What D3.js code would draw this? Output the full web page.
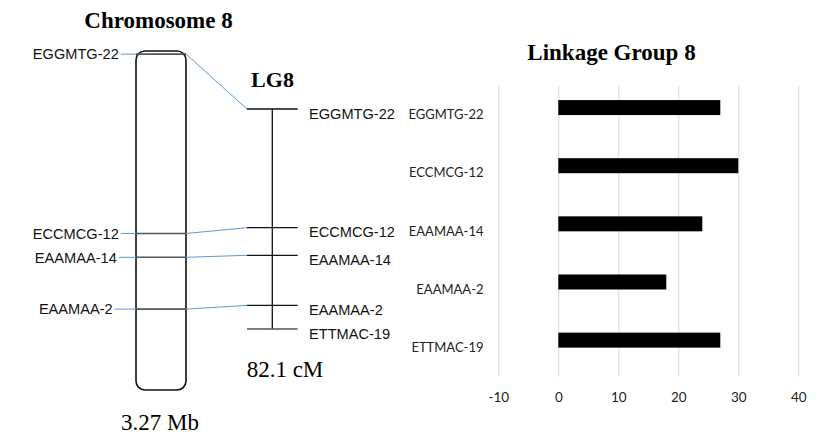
<!DOCTYPE html>
<html>
<head>
<meta charset="utf-8">
<script src="https://cdn.jsdelivr.net/npm/d3@7"></script>
<style>
  html, body { margin: 0; padding: 0; background: #fff; }
  svg { display: block; }
</style>
</head>
<body>
<svg id="chart" width="822" height="435"></svg>
<script>
// Marker names, top to bottom
const markers = ["EGGMTG-22", "ECCMCG-12", "EAAMAA-14", "EAAMAA-2", "ETTMAC-19"];
// Physical position on chromosome 8 (Mb); ETTMAC-19 has no physical anchor
const physicalMb = [0.03, 1.76, 1.99, 2.49, null];
// Genetic position on linkage group 8 (cM)
const geneticCM = [0, 44.3, 54.6, 73.3, 82.1];
// Bar lengths shown in the Linkage Group 8 panel
const barValues = [27, 30, 24, 18, 27];
const barTicks = [-10, 0, 10, 20, 30, 40];

const chromLengthMb = 3.27;
const lgLengthCM = 82.1;

const svg = d3.select("#chart");
const serif = "'Liberation Serif', 'Times New Roman', serif";
const sans = "'Liberation Sans', Arial, sans-serif";
const barFont = "Lato, 'Open Sans', sans-serif";
const blue = "#5b9bd5";

// ---------- Chromosome ideogram ----------
const chromX0 = 136, chromX1 = 186;
const yChrom = d3.scaleLinear().domain([0, chromLengthMb]).range([51, 390]);

svg.append("text")
  .attr("x", 158.5).attr("y", 28)
  .attr("text-anchor", "middle")
  .attr("font-family", serif).attr("font-weight", "bold").attr("font-size", 23)
  .text("Chromosome 8");

svg.append("rect")
  .attr("x", chromX0).attr("y", yChrom(0))
  .attr("width", chromX1 - chromX0).attr("height", yChrom(chromLengthMb) - yChrom(0))
  .attr("rx", 9).attr("ry", 9)
  .attr("fill", "none").attr("stroke", "#111").attr("stroke-width", 1.6);

svg.append("text")
  .attr("x", 160).attr("y", 430)
  .attr("text-anchor", "middle")
  .attr("font-family", serif).attr("font-size", 23)
  .text(chromLengthMb.toFixed(2) + " Mb");

// ---------- Linkage group LG8 ----------
const lgX = 272.3, lgTick0 = 247, lgTick1 = 297.7;
const yLG = d3.scaleLinear().domain([0, lgLengthCM]).range([109, 329]);

svg.append("text")
  .attr("x", 272.5).attr("y", 86.5)
  .attr("text-anchor", "middle")
  .attr("font-family", serif).attr("font-weight", "bold").attr("font-size", 22)
  .text("LG8");

svg.append("line")
  .attr("x1", lgX).attr("x2", lgX)
  .attr("y1", yLG(0)).attr("y2", yLG(lgLengthCM))
  .attr("stroke", "#111").attr("stroke-width", 1.3);

svg.append("text")
  .attr("x", 285).attr("y", 377)
  .attr("text-anchor", "middle")
  .attr("font-family", serif).attr("font-size", 23)
  .text(lgLengthCM + " cM");

const rows = markers.map((name, i) => ({ name, mb: physicalMb[i], cm: geneticCM[i], value: barValues[i] }));

// LG ticks and labels
const lgG = svg.append("g");
lgG.selectAll("line.tick").data(rows).join("line")
  .attr("class", "tick")
  .attr("x1", lgTick0).attr("x2", lgTick1)
  .attr("y1", d => yLG(d.cm)).attr("y2", d => yLG(d.cm))
  .attr("stroke", (d, i) => i === rows.length - 1 ? "#555" : "#111")
  .attr("stroke-width", 1.3);
lgG.selectAll("text").data(rows).join("text")
  .attr("x", 309).attr("y", d => yLG(d.cm) + 9.5)
  .attr("font-family", sans).attr("font-size", 14.6).attr("fill", "#111")
  .text(d => d.name);

// Markers placed on the chromosome
const anchored = rows.filter(d => d.mb != null);
const chG = svg.append("g");
chG.selectAll("line.mk").data(anchored).join("line")
  .attr("class", "mk")
  .attr("x1", chromX0).attr("x2", chromX1)
  .attr("y1", d => yChrom(d.mb)).attr("y2", d => yChrom(d.mb))
  .attr("stroke", "#555").attr("stroke-width", 1.6);

const leftLabels = chG.selectAll("text").data(anchored).join("text")
  .attr("x", 75.8).attr("y", d => yChrom(d.mb))
  .attr("dy", "0.36em")
  .attr("text-anchor", "middle")
  .attr("font-family", sans).attr("font-size", 14.6).attr("fill", "#111")
  .text(d => d.name);

// leader lines from the left labels to the chromosome
leftLabels.each(function (d) {
  const w = this.getComputedTextLength();
  chG.append("line")
    .attr("x1", 75.8 + w / 2 + 2).attr("x2", chromX0)
    .attr("y1", yChrom(d.mb)).attr("y2", yChrom(d.mb))
    .attr("stroke", blue).attr("stroke-width", 1);
});

// connectors from chromosome to linkage map
chG.selectAll("line.link").data(anchored).join("line")
  .attr("class", "link")
  .attr("x1", chromX1).attr("y1", d => yChrom(d.mb))
  .attr("x2", lgTick0).attr("y2", d => yLG(d.cm))
  .attr("stroke", blue).attr("stroke-width", 1);

// ---------- Linkage Group 8 bar chart ----------
const plotTop = 86, plotBottom = 376.7;
const x = d3.scaleLinear().domain([-10, 40]).range([498.3, 798.3]);
const y = d3.scaleBand().domain(markers).range([plotTop, plotBottom]);
const barH = y.step() * 0.258;

svg.append("text")
  .attr("x", 611.5).attr("y", 60)
  .attr("text-anchor", "middle")
  .attr("font-family", serif).attr("font-weight", "bold").attr("font-size", 23)
  .text("Linkage Group 8");

// vertical gridlines
svg.append("g")
  .attr("transform", `translate(0,${plotBottom})`)
  .call(d3.axisBottom(x).tickValues(barTicks).tickSize(-(plotBottom - plotTop)).tickFormat(""))
  .call(g => g.select(".domain").remove())
  .call(g => g.selectAll(".tick line").attr("stroke", "#d9d9d9").attr("stroke-width", 1));

// bars sit in the upper half of each category slot
svg.append("g").selectAll("rect").data(rows).join("rect")
  .attr("x", x(0))
  .attr("y", d => y(d.name) + y.bandwidth() / 2 - barH)
  .attr("width", d => x(d.value) - x(0))
  .attr("height", barH)
  .attr("fill", "#000");

// category axis labels
svg.append("g")
  .attr("transform", "translate(483.5,0)")
  .call(d3.axisLeft(y).tickSize(0).tickPadding(0))
  .call(g => g.select(".domain").remove())
  .call(g => g.selectAll("text")
    .attr("font-family", barFont).attr("font-size", 13).attr("fill", "#222"));

// value axis labels
svg.append("g")
  .attr("transform", `translate(0,${plotBottom})`)
  .call(d3.axisBottom(x).tickValues(barTicks).tickSize(0).tickPadding(15.5).tickFormat(d => String(d)))
  .call(g => g.select(".domain").remove())
  .call(g => g.selectAll("text")
    .attr("font-family", barFont).attr("font-size", 13.5).attr("fill", "#222"));
</script>
</body>
</html>
